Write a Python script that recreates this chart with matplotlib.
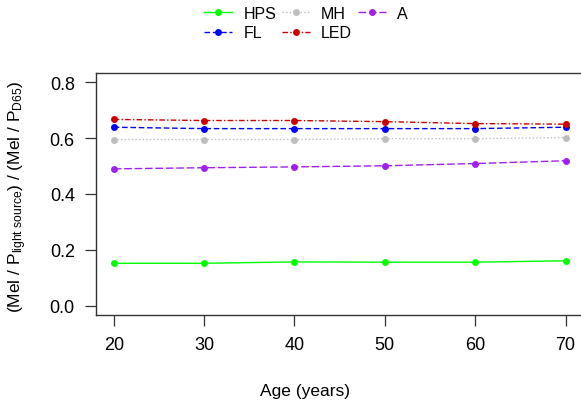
import matplotlib
matplotlib.use("Agg")
import matplotlib.pyplot as plt

plt.rcParams['font.family'] = ['Liberation Sans', 'DejaVu Sans']
plt.rcParams['mathtext.fontset'] = 'custom'
plt.rcParams['mathtext.rm'] = 'Liberation Sans'
plt.rcParams['mathtext.it'] = 'Liberation Sans'
plt.rcParams['lines.scale_dashes'] = False

ages = [20, 30, 40, 50, 60, 70]
hps = [0.152, 0.152, 0.157, 0.156, 0.156, 0.161]
fl = [0.639, 0.634, 0.634, 0.634, 0.634, 0.639]
mh = [0.595, 0.595, 0.595, 0.598, 0.598, 0.602]
led = [0.667, 0.663, 0.663, 0.659, 0.652, 0.650]
a = [0.490, 0.494, 0.497, 0.501, 0.509, 0.519]

series = [
    ("HPS", hps, "#00FF00", "-"),
    ("FL", fl, "#0000FF", (0, (4.0, 2.0))),
    ("MH", mh, "#BEBEBE", (0, (1.0, 1.6))),
    ("LED", led, "#CD0000", (0, (4.0, 1.6, 1.0, 1.6))),
    ("A", a, "#A020F0", (0, (5.5, 2.0))),
]

fig = plt.figure(figsize=(5.81, 4.02), dpi=100)
ax = fig.add_axes([95.7/581, 1-315.7/402, (583.6-95.7)/581, (315.7-74.3)/402])

for name, vals, col, ls in series:
    ax.plot(ages, vals, color=col, linestyle=ls, lw=1.0, marker='o', ms=5.0,
            markeredgewidth=0, label=name)

ax.set_xlim(18, 72)
ax.set_ylim(-0.032, 0.832)
ax.set_xticks([20, 30, 40, 50, 60, 70])
ax.set_yticks([0.0, 0.2, 0.4, 0.6, 0.8])
ax.set_yticklabels(["0.0", "0.2", "0.4", "0.6", "0.8"])
ax.tick_params(direction='out', length=8, width=0.9, labelsize=13, pad=7, color='#333333')
for s in ax.spines.values():
    s.set_linewidth(1.0)
    s.set_color('#333333')

fig.text(18/581, 1-197/402,
         r'(Mel / P$_{\mathrm{light\ source}}$) / (Mel / P$_{\mathrm{D65}}$)',
         rotation=90, ha='center', va='center', fontsize=12.5)
fig.text(305/581, 1-392/402, 'Age (years)', ha='center', va='center', fontsize=12.5)

leg = fig.legend(loc='center', bbox_to_anchor=(306/581, 1-24/402), ncol=3,
                 frameon=False, fontsize=11.5, handlelength=1.75, handletextpad=0.7,
                 columnspacing=0.35, labelspacing=0.3, borderpad=0)

fig.savefig("out.png", dpi=100)
